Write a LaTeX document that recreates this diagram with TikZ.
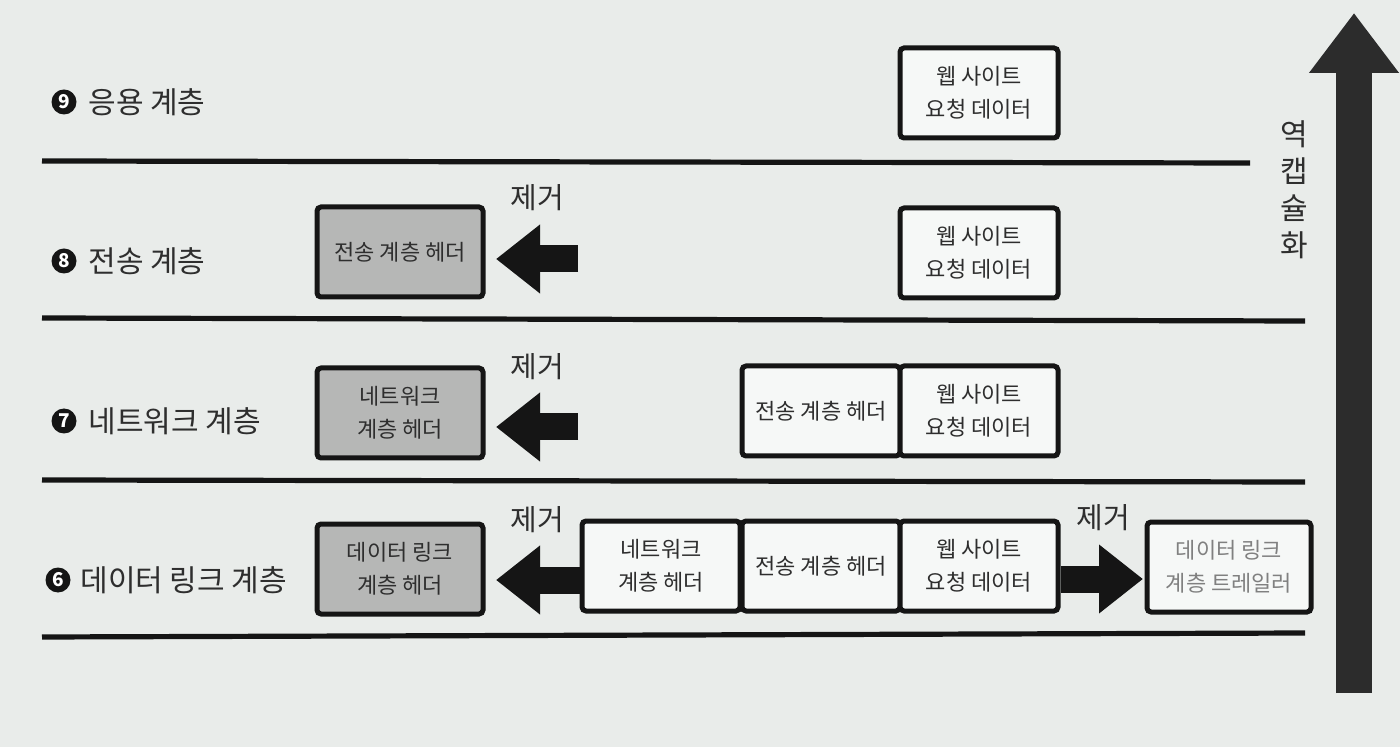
\documentclass[tikz,border=0pt]{standalone}
\usepackage{fontspec}
\setmainfont{Noto Sans CJK KR}
\usetikzlibrary{arrows.meta}
\definecolor{bgcol}{HTML}{E9ECEA}
\definecolor{boxfill}{HTML}{F6F8F7}
\definecolor{grayfill}{HTML}{B6B7B6}
\definecolor{txt}{HTML}{2E2E2E}
\definecolor{ink}{HTML}{151515}
\tikzset{
  box/.style={draw=ink, line width=2.5pt, fill=boxfill, rounded corners=2pt,
    minimum width=79pt, minimum height=45pt, inner sep=0pt, align=center,
    text=txt, font=\fontsize{11}{16.5}\selectfont},
  graybox/.style={box, fill=grayfill, minimum width=83pt},
  trailer/.style={box, minimum width=82pt, text=black!50},
  layerlabel/.style={anchor=west, text=txt, font=\fontsize{15}{18}\selectfont, inner sep=0pt},
  num/.style={circle, fill=ink, text=white, inner sep=0pt, minimum size=12.5pt,
    font=\fontsize{9.5}{9.5}\selectfont\bfseries},
  sep/.style={draw=ink, line width=2.6pt},
  removal/.style={text=txt, font=\fontsize{14.5}{16}\selectfont, inner sep=0pt},
  fatarrow/.style={draw=ink, line width=13.5pt, -{Triangle[length=22pt,width=33pt]}},
  bigarrow/.style={draw=ink!90, line width=18pt, -{Triangle[length=30pt,width=43pt]}},
}
\begin{document}
\begin{tikzpicture}[x=0.5pt,y=-0.5pt]
\fill[bgcol] (0,0) rectangle (1400,747);
\useasboundingbox (0,0) rectangle (1400,747);

% separator lines
\coordinate (l1a) at (42,161); \coordinate (l1b) at (1250,163);
\coordinate (l2a) at (42,318); \coordinate (l2b) at (1305,321);
\coordinate (l3a) at (42,480); \coordinate (l3b) at (1305,482);
\coordinate (l4a) at (42,637); \coordinate (l4b) at (1305,633);
\draw[sep] (l1a) -- (l1b);
\draw[sep] (l2a) -- (l2b);
\draw[sep] (l3a) -- (l3b);
\draw[sep] (l4a) -- (l4b);

% layer labels
\node[num] (n9) at (64,102) {9};
\node[layerlabel] (t9) at (88,102) {응용 계층};
\node[num] (n8) at (64,261) {8};
\node[layerlabel] (t8) at (88,261) {전송 계층};
\node[num] (n7) at (64,421) {7};
\node[layerlabel] (t7) at (88,421) {네트워크 계층};
\node[num] (n6) at (58,580) {6};
\node[layerlabel] (t6) at (80,580) {데이터 링크 계층};

% row 9
\node[box] (w9) at (979,93) {웹 사이트\\요청 데이터};

% row 8
\node[graybox] (g8) at (400,252) {전송 계층 헤더};
\node[box] (w8) at (979,253) {웹 사이트\\요청 데이터};
\coordinate (a8s) at (578,259); \coordinate (a8e) at (496,259);
\draw[fatarrow] (a8s) -- (a8e);
\node[removal] (r8) at (537,198) {제거};

% row 7
\node[graybox] (g7) at (400,413) {네트워크\\계층 헤더};
\node[box] (s7) at (821,411) {전송 계층 헤더};
\node[box] (w7) at (979,411) {웹 사이트\\요청 데이터};
\coordinate (a7s) at (578,427); \coordinate (a7e) at (496,427);
\draw[fatarrow] (a7s) -- (a7e);
\node[removal] (r7) at (537,367) {제거};

% row 6
\node[graybox] (g6) at (400,569) {데이터 링크\\계층 헤더};
\node[box] (n6b) at (661,566) {네트워크\\계층 헤더};
\node[box] (s6) at (821,566) {전송 계층 헤더};
\node[box] (w6) at (979,566) {웹 사이트\\요청 데이터};
\node[trailer] (tr6) at (1229,567) {데이터 링크\\계층 트레일러};
\coordinate (a6e) at (496,580);
\draw[fatarrow] (n6b.west |- a6e) -- (a6e);
\node[removal] (r6) at (537,520) {제거};
\coordinate (b6e) at (1143,579);
\draw[fatarrow] (w6.east |- b6e) -- (b6e);
\node[removal] (r6b) at (1103,518) {제거};

% big arrow
\coordinate (bigs) at (1354,693); \coordinate (bige) at (1354,13);
\draw[bigarrow] (bigs) -- (bige);
\node[align=center, text=txt, font=\fontsize{15}{18.5}\selectfont, inner sep=0pt]
  (decap) at (1294,190) {역\\캡\\슐\\화};
\end{tikzpicture}
\end{document}
